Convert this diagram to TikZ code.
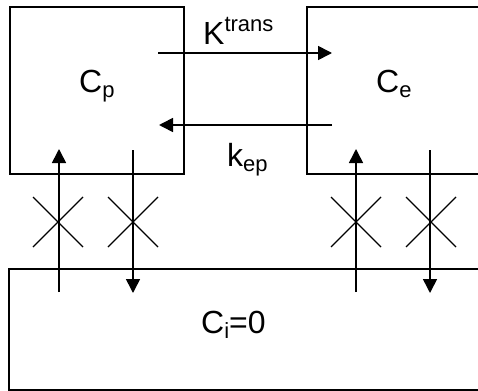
\documentclass[tikz,border=0pt]{standalone}
\usepackage{fontspec}
\setmainfont{Liberation Sans}
\usetikzlibrary{arrows.meta}
\newcommand{\lbl}[2]{#1\raisebox{-5pt}{\fontsize{22}{22}\selectfont #2}}
\newcommand{\sprs}[2]{#1\raisebox{13pt}{\fontsize{22}{22}\selectfont #2}}
\begin{document}
\begin{tikzpicture}[x=1pt,y=-1pt,
  box/.style={draw,line width=2pt,inner sep=0pt},
  flow/.style={line width=1.6pt,-{Triangle[length=14pt,width=14pt]}},
  crossln/.style={line width=1.3pt},
  txt/.style={font=\fontsize{32}{32}\selectfont,inner sep=0pt,anchor=base west}]
\useasboundingbox (0,0) rectangle (478,390);
\begin{scope}
\clip (0,0) rectangle (478,390);
\node[box,minimum width=174pt,minimum height=167pt,anchor=north west] (cp) at (9,6) {};
\node[box,minimum width=180pt,minimum height=167pt,anchor=north west] (ce) at (306,6) {};
\node[box,minimum width=480pt,minimum height=121pt,anchor=north west] (ci) at (8,268) {};
\end{scope}
\node[txt] (cpl) at (79,93) {\lbl{C}{p}};
\node[txt] (cel) at (376,93) {\lbl{C}{e}};
\node[txt] (cil) at (201,333) {\lbl{C}{i}=0};
\node[txt] (kt) at (203,45) {\sprs{K}{trans}};
\node[txt] (ke) at (227,166) {\lbl{k}{ep}};
% horizontal transfer arrows
\coordinate (a1) at (158,53); \coordinate (a2) at (332,53);
\coordinate (b1) at (332,125); \coordinate (b2) at (159,125);
\draw[flow] (a1) -- (a2);
\draw[flow] (b1) -- (b2);
% vertical blocked arrows
\foreach \n/\x in {L/59,R/356}{
  \coordinate (u\n1) at (\x,292); \coordinate (u\n2) at (\x,149);
  \draw[flow] (u\n1) -- (u\n2);
}
\foreach \n/\x in {L/133,R/430}{
  \coordinate (d\n1) at (\x,150); \coordinate (d\n2) at (\x,293);
  \draw[flow] (d\n1) -- (d\n2);
}
% crosses
\foreach \n/\x in {1/58,2/133,3/356,4/431}{
  \coordinate (x\n) at (\x,222);
  \draw[crossln] ([shift={(-25,-25)}]x\n) -- ([shift={(25,25)}]x\n);
  \draw[crossln] ([shift={(-25,25)}]x\n) -- ([shift={(25,-25)}]x\n);
}
\end{tikzpicture}
\end{document}
